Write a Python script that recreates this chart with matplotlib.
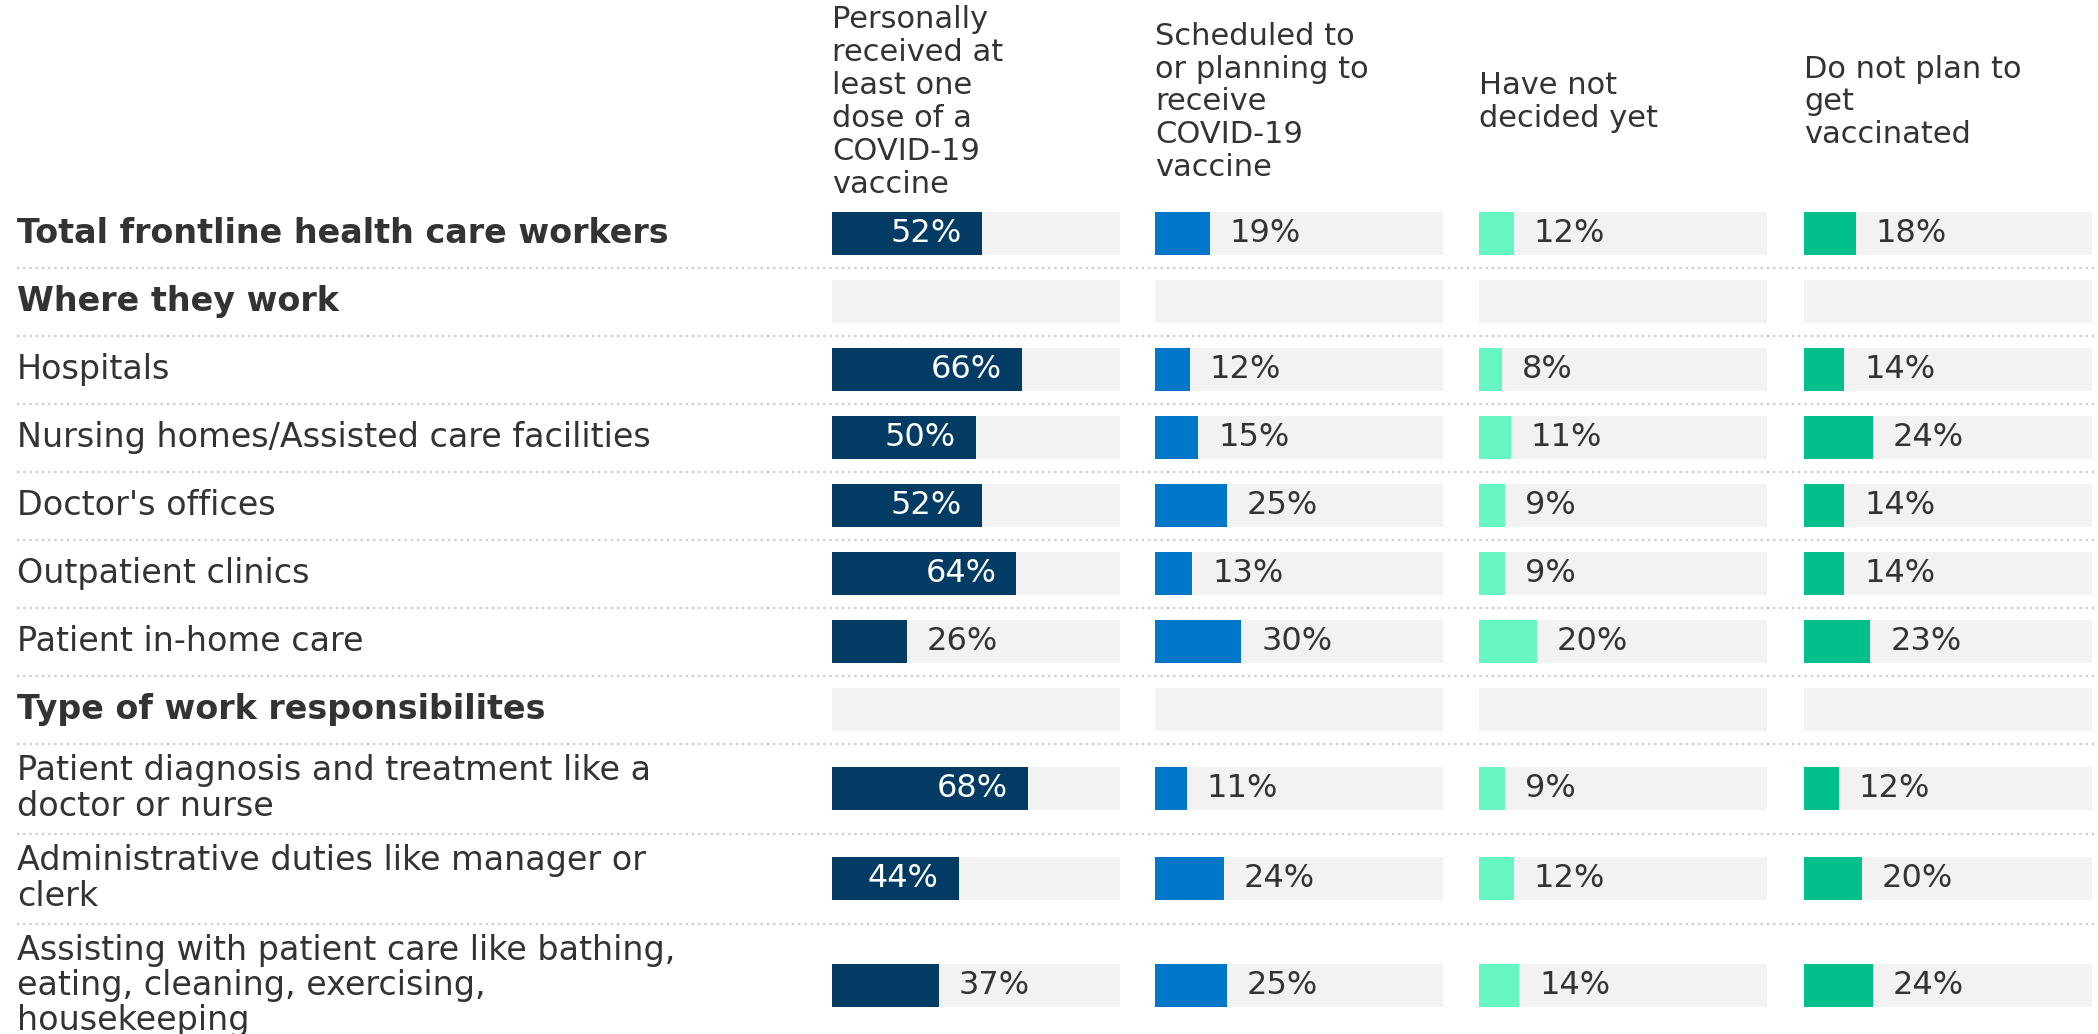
import numpy as np
import matplotlib
matplotlib.use("Agg")
import matplotlib.pyplot as plt

plt.rcParams['font.family'] = ['DejaVu Sans']

# row labels (bold ones are the section headings)
labels = [
    "Total frontline health care workers",
    "Where they work",
    "Hospitals",
    "Nursing homes/Assisted care facilities",
    "Doctor's offices",
    "Outpatient clinics",
    "Patient in-home care",
    "Type of work responsibilites",
    "Patient diagnosis and treatment like a\ndoctor or nurse",
    "Administrative duties like manager or\nclerk",
    "Assisting with patient care like bathing,\neating, cleaning, exercising,\nhousekeeping",
]
bold_rows = [0, 1, 7]

headers = [
    "Personally\nreceived at\nleast one\ndose of a\nCOVID-19\nvaccine",
    "Scheduled to\nor planning to\nreceive\nCOVID-19\nvaccine",
    "Have not\ndecided yet",
    "Do not plan to\nget\nvaccinated",
]

# None = section heading row, no bar
received  = [52, None, 66, 50, 52, 64, 26, None, 68, 44, 37]
scheduled = [19, None, 12, 15, 25, 13, 30, None, 11, 24, 25]
undecided = [12, None,  8, 11,  9,  9, 20, None,  9, 12, 14]
no_plan   = [18, None, 14, 24, 14, 14, 23, None, 12, 20, 24]
series = [received, scheduled, undecided, no_plan]

colors = ['#023b64', '#0077c8', '#66f6c1', '#00bf8a']
bg_color = '#f2f2f2'
text_color = '#333333'

W, H = 2098, 1034
fig = plt.figure(figsize=(W / 100, H / 100), dpi=100)

# layout in pixels
row_h = [68] * 8 + [90, 90, 124]
top = 199.5
edges = top + np.concatenate([[0], np.cumsum(row_h)])
centers = (edges[:-1] + edges[1:]) / 2
col_x = [832, 1155, 1479, 1804]
col_w = 288
bar_h = 43
pad_pt = 20 * 72 / 100

base = fig.add_axes([0, 0, 1, 1])
base.set_xlim(0, W)
base.set_ylim(H, 0)
base.axis('off')

for i, lab in enumerate(labels):
    base.text(17, centers[i], lab, ha='left', va='center',
              fontsize=24, color=text_color, linespacing=1.08,
              fontweight='bold' if i in bold_rows else 'normal')

for y in edges[1:-1]:
    base.plot([17, 2094], [y, y], color='#c8c8c8', lw=1.5,
              linestyle=(0, (1, 2)))

for j, head in enumerate(headers):
    base.text(col_x[j], 102, head, ha='left', va='center', fontsize=22,
              color=text_color, linespacing=1.17)

for j, vals in enumerate(series):
    ax = fig.add_axes([col_x[j] / W, 0, col_w / W, 1])
    ax.set_xlim(0, 100)
    ax.set_ylim(H, 0)
    ax.axis('off')
    ax.patch.set_alpha(0)
    ax.barh(centers, [100] * len(centers), height=bar_h, color=bg_color)
    ys = [centers[i] for i, v in enumerate(vals) if v is not None]
    vs = [v for v in vals if v is not None]
    ax.barh(ys, vs, height=bar_h, color=colors[j])
    for y, v in zip(ys, vs):
        if v >= 40:
            ax.annotate(f"{v}%", (v, y), xytext=(-pad_pt, 0),
                        textcoords='offset points', ha='right', va='center',
                        fontsize=23, color='white')
        else:
            ax.annotate(f"{v}%", (v, y), xytext=(pad_pt, 0),
                        textcoords='offset points', ha='left', va='center',
                        fontsize=23, color=text_color)

fig.savefig("out.png", dpi=100)
